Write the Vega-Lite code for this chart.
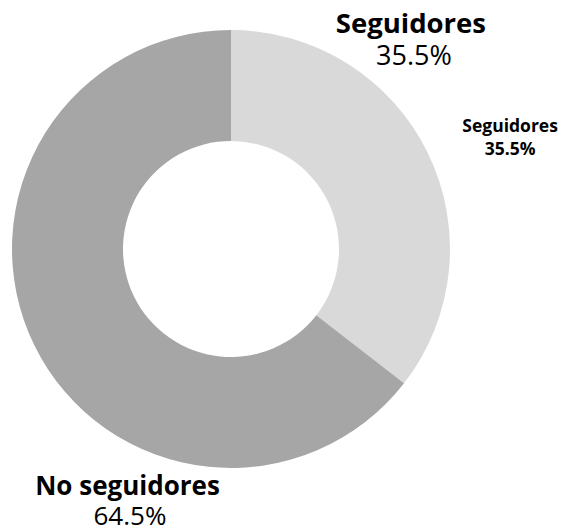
{
  "$schema": "https://vega.github.io/schema/vega-lite/v6.json",
  "width": 462,
  "height": 498,
  "autosize": {"type": "none"},
  "padding": {"left": 0, "top": 0, "right": 104, "bottom": 34},
  "background": "white",
  "config": {"view": {"stroke": null}, "text": {"font": "Open Sans"}},
  "data": {"values": [
    {"cat": "Seguidores", "value": 0.355, "orden": 1},
    {"cat": "No seguidores", "value": 0.645, "orden": 2}
  ]},
  "encoding": {
    "theta": {"field": "value", "type": "quantitative", "stack": true},
    "order": {"field": "orden", "type": "quantitative"}
  },
  "layer": [
    {
      "mark": {"type": "arc", "outerRadius": 219, "innerRadius": 108},
      "encoding": {
        "color": {"field": "cat", "type": "nominal", "scale": {"domain": ["Seguidores", "No seguidores"], "range": ["#d9d9d9", "#a6a6a6"]}, "legend": null}
      }
    },
    {
      "mark": {"type": "text", "radius": 281, "thetaOffset": -0.4206, "fontSize": 27.5, "fontWeight": "bold", "align": "center", "baseline": "alphabetic", "color": "#000000"},
      "encoding": {"text": {"condition": {"test": "datum.cat === 'Seguidores'", "field": "cat"}, "value": ""}}
    },
    {
      "mark": {"type": "text", "radius": 259.5, "thetaOffset": -0.3327, "fontSize": 27, "fontWeight": "normal", "align": "center", "baseline": "alphabetic", "color": "#000000"},
      "encoding": {"text": {"condition": {"test": "datum.cat === 'Seguidores'", "field": "value", "format": ".1%"}, "value": ""}}
    },
    {
      "mark": {"type": "text", "radius": 266.9, "thetaOffset": -0.7172, "fontSize": 26, "fontWeight": "bold", "align": "center", "baseline": "alphabetic", "color": "#000000"},
      "encoding": {"text": {"condition": {"test": "datum.cat === 'No seguidores'", "field": "cat"}, "value": ""}}
    },
    {
      "mark": {"type": "text", "radius": 293.9, "thetaOffset": -0.7643, "fontSize": 26, "fontWeight": "normal", "align": "center", "baseline": "alphabetic", "color": "#000000"},
      "encoding": {"text": {"condition": {"test": "datum.cat === 'No seguidores'", "field": "value", "format": ".1%"}, "value": ""}}
    },
    {
      "mark": {"type": "text", "radius": 302.7, "thetaOffset": 0.058, "fontSize": 17.5, "fontWeight": "bold", "align": "center", "baseline": "alphabetic", "color": "#000000"},
      "encoding": {"text": {"condition": {"test": "datum.cat === 'Seguidores'", "field": "cat"}, "value": ""}}
    },
    {
      "mark": {"type": "text", "radius": 302.7, "thetaOffset": 0.058, "dy": 23, "fontSize": 17.5, "fontWeight": "bold", "align": "center", "baseline": "alphabetic", "color": "#000000"},
      "encoding": {"text": {"condition": {"test": "datum.cat === 'Seguidores'", "field": "value", "format": ".1%"}, "value": ""}}
    }
  ]
}
